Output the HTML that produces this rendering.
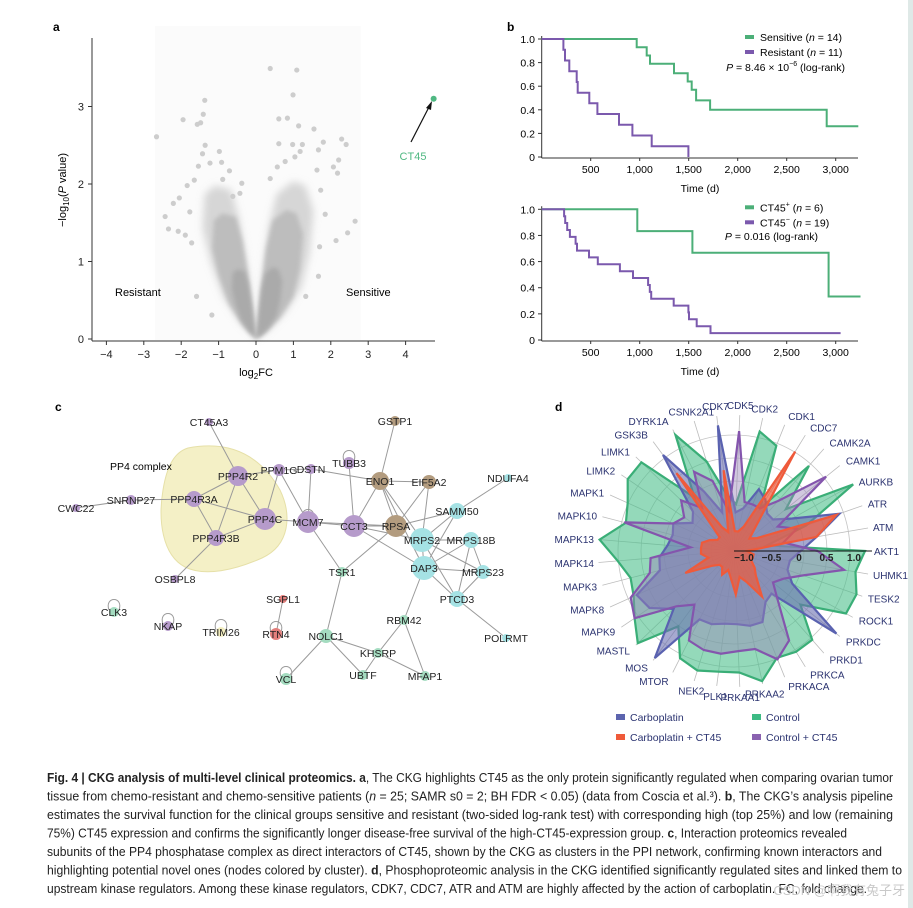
<!DOCTYPE html>
<html><head><meta charset="utf-8">
<style>
html,body{margin:0;padding:0;background:#fff;}
svg{display:block;font-family:"Liberation Sans",sans-serif;}
</style></head>
<body>
<svg id="fig" width="913" height="908" viewBox="0 0 913 908" xmlns="http://www.w3.org/2000/svg">
<defs>
<filter id="blur3" x="-20%" y="-20%" width="140%" height="140%"><feGaussianBlur stdDeviation="4"/></filter>
<filter id="blur1" x="-20%" y="-20%" width="140%" height="140%"><feGaussianBlur stdDeviation="2"/></filter>
</defs>
<rect x="0" y="0" width="913" height="908" fill="#fff"/>
<rect x="908" y="0" width="5" height="908" fill="#dfe9e7"/>
<g id="pa"></g>
<g id="pb"></g>
<g id="pc"></g>
<g id="pd"></g>
<g id="cap" font-family="'Liberation Sans Narrow','Liberation Sans',sans-serif" font-size="12.5" fill="#222">
<text x="47" y="782" textLength="846" lengthAdjust="spacingAndGlyphs"><tspan font-weight="bold">Fig. 4 | CKG analysis of multi-level clinical proteomics. a</tspan>, The CKG highlights CT45 as the only protein significantly regulated when comparing ovarian tumor</text>
<text x="47" y="800.5" textLength="846" lengthAdjust="spacingAndGlyphs">tissue from chemo-resistant and chemo-sensitive patients (<tspan font-style="italic">n</tspan> = 25; SAMR s0 = 2; BH FDR &lt; 0.05) (data from Coscia et al.³). <tspan font-weight="bold">b</tspan>, The CKG’s analysis pipeline</text>
<text x="47" y="819" textLength="846" lengthAdjust="spacingAndGlyphs">estimates the survival function for the clinical groups sensitive and resistant (two-sided log-rank test) with corresponding high (top 25%) and low (remaining</text>
<text x="47" y="837.5" textLength="800" lengthAdjust="spacingAndGlyphs">75%) CT45 expression and confirms the significantly longer disease-free survival of the high-CT45-expression group. <tspan font-weight="bold">c</tspan>, Interaction proteomics revealed</text>
<text x="47" y="856" textLength="835" lengthAdjust="spacingAndGlyphs">subunits of the PP4 phosphatase complex as direct interactors of CT45, shown by the CKG as clusters in the PPI network, confirming known interactors and</text>
<text x="47" y="874.5" textLength="855" lengthAdjust="spacingAndGlyphs">highlighting potential novel ones (nodes colored by cluster). <tspan font-weight="bold">d</tspan>, Phosphoproteomic analysis in the CKG identified significantly regulated sites and linked them to</text>
<text x="47" y="893" textLength="820" lengthAdjust="spacingAndGlyphs">upstream kinase regulators. Among these kinase regulators, CDK7, CDC7, ATR and ATM are highly affected by the action of carboplatin. FC, fold change.</text>
</g>
<text x="905" y="895" text-anchor="end" font-size="13" fill="#c9c9c9" font-family="'Liberation Sans','Noto Sans CJK SC',sans-serif">CSDN @啊我有兔子牙</text>
</svg>
<script>
// ---------- Panel A data ----------
const volcanoFC = [-2.66,-2.43,-2.34,-2.21,-2.05,-1.95,-1.84,-1.89,-2.08,-1.77,-1.65,-1.57,-1.54,-1.48,-1.41,-1.37,-1.36,-1.43,-1.23,-0.98,-0.92,-0.71,-0.89,-0.38,0.38,1.09,0.99,0.61,0.84,1.14,1.55,0.61,0.98,1.24,1.80,2.29,2.41,1.67,1.18,2.07,2.21,2.18,2.65,2.45,2.14,1.85,1.70,1.67,0.38,0.57,0.78,1.04,1.63,1.73,-1.72,-1.59,-1.18,-0.62,-0.43,1.33];
const volcanoP = [2.61,1.58,1.42,1.75,1.82,2.83,1.98,1.34,1.39,1.64,2.05,2.77,2.23,2.79,2.90,3.08,2.50,2.39,2.27,2.42,2.28,2.17,2.06,2.01,3.49,3.47,3.15,2.84,2.85,2.75,2.71,2.52,2.51,2.51,2.54,2.58,2.51,2.44,2.42,2.22,2.31,2.14,1.52,1.37,1.27,1.61,1.19,0.81,2.07,2.22,2.29,2.35,2.18,1.92,1.24,0.55,0.31,1.84,1.88,0.55];
const denseLeftFC = [0,-0.4,-0.8,-1.1,-1.3,-1.25,-1.0,-0.6,-0.4,-0.2,-0.05];
const denseLeftP  = [0,0.2,0.5,0.9,1.3,1.7,1.8,1.75,1.4,0.8,0.2];
const denseRightFC = [0,0.3,0.7,1.1,1.3,1.4,1.2,0.9,0.5,0.3,0.15,0.05];
const denseRightP  = [0,0.1,0.3,0.6,1.0,1.5,1.8,1.85,1.7,1.3,0.7,0.2];
const ct45FC = [4.75], ct45P = [3.1];
const aXTicks = [-4,-3,-2,-1,0,1,2,3,4];
const aYTicks = [0,1,2,3];

// ---------- Panel B data ----------
const sensT = [969,1071,1105,1350,1490,1531,1575,1718,2908];
const sensS = [0.93,0.86,0.79,0.71,0.64,0.57,0.48,0.40,0.26];
const sensEnd = 3231;
const resT = [221,238,282,357,367,486,568,789,925,1122,1497];
const resS = [0.909,0.818,0.727,0.636,0.545,0.455,0.364,0.273,0.182,0.091,0];
const resEnd = 1497;
const posT = [976,1538,2928];
const posS = [0.833,0.667,0.333];
const posEnd = 3253;
const negT = [229,240,260,288,346,360,483,572,798,932,1086,1103,1117,1347,1497,1503,1582,1722];
const negS = [0.947,0.895,0.842,0.789,0.737,0.684,0.632,0.579,0.526,0.474,0.421,0.368,0.316,0.263,0.211,0.158,0.105,0.053];
const negEnd = 3050;
const bXTicks = [500,1000,1500,2000,2500,3000];
const bXLabels = ["500","1,000","1,500","2,000","2,500","3,000"];
const bYTicks = [0,0.2,0.4,0.6,0.8,1.0];
const bYLabels = ["0","0.2","0.4","0.6","0.8","1.0"];

// ---------- Panel D data ----------
const kinases = ["AKT1","ATM","ATR","AURKB","CAMK1","CAMK2A","CDC7","CDK1","CDK2","CDK5","CDK7","CSNK2A1","DYRK1A","GSK3B","LIMK1","LIMK2","MAPK1","MAPK10","MAPK13","MAPK14","MAPK3","MAPK8","MAPK9","MASTL","MOS","MTOR","NEK2","PLK1","PRKAA1","PRKAA2","PRKACA","PRKCA","PRKD1","PRKDC","ROCK1","TESK2","UHMK1"];
const controlVals = [1.20,-0.57,0.21,1.30,0.03,0.88,-0.27,0.88,1.04,-0.33,-0.15,0.52,1.18,0.03,1.15,1.15,0.94,0.85,1.27,0.94,0.76,0.82,1.00,1.24,0.52,1.00,1.09,1.03,1.03,1.24,0.91,0.97,0.97,0.37,1.15,1.18,1.06];
const carboVals = [0.03,0.34,0.85,0.03,-0.27,-0.27,-0.09,0.03,-0.39,-0.48,1.12,-0.45,0.03,0.99,-0.15,-0.27,0.03,-0.03,0.03,0.18,0.21,0.76,0.67,0.34,1.24,0.21,0.21,0.15,0.15,0.21,0.21,-0.09,-0.15,1.21,0.03,-0.15,-0.15];
const ctrlCt45Vals = [0.34,-0.27,0.03,-0.27,0.97,0.03,-0.27,-0.27,-0.27,1.00,-0.45,0.15,0.43,-0.21,0.15,-0.09,0.03,0.88,-0.39,0.34,0.40,0.88,1.00,0.27,0.03,0.64,0.70,0.70,0.64,0.64,0.94,0.73,0.03,-0.27,-0.15,0.15,0.85];
const carboCt45Vals = [-0.95,0.34,0.79,-0.70,-0.82,-0.58,0.94,-0.70,-0.82,-0.82,0.30,-0.82,-0.70,0.58,-0.82,-0.82,-0.70,-0.58,-0.58,-0.58,-0.70,-0.21,-0.70,-0.82,-0.82,-0.70,-0.82,-0.70,-0.39,-0.70,-0.58,-0.21,-0.58,-0.70,-0.82,-0.82,-0.82];
const dRTicks = [-1.0,-0.5,0,0.5,1.0];
const dRLabels = ["−1.0","−0.5","0","0.5","1.0"];

const NS = "http://www.w3.org/2000/svg";
function mk(parent, tag, attrs, text){
  const e = document.createElementNS(NS, tag);
  for (const k in attrs) e.setAttribute(k, attrs[k]);
  if (text !== undefined) e.textContent = text;
  parent.appendChild(e);
  return e;
}

// ================= PANEL A =================
(function(){
  const g = document.getElementById('pa');
  const X = v => 256 + v*37.4;
  const Y = v => 339 - v*77.5;
  let t = mk(g,'text',{x:53,y:31,'font-size':12,'font-weight':'bold'},'a');
  
  
  mk(g,'rect',{x:X(-2.7),y:26,width:X(2.8)-X(-2.7),height:314,fill:'#fbfbfb'});
  const poly = (fx,py,k,fill,op,filt,name)=>{
    let d = fx.map((v,i)=>(i?'L':'M')+X(v*k).toFixed(1)+' '+Y(py[i]*k).toFixed(1)).join(' ')+'Z';
    const p = mk(g,'path',{d:d,fill:fill,opacity:op,filter:filt});
    
    
  };
  poly(denseLeftFC,denseLeftP,1.1,'#d2d2d2',0.9,'url(#blur3)','dense-halo-left');
  poly(denseRightFC,denseRightP,1.1,'#d2d2d2',0.9,'url(#blur3)','dense-halo-right');
  poly(denseLeftFC,denseLeftP,0.9,'#bcbcbc',0.95,'url(#blur1)','dense-cloud-left');
  poly(denseRightFC,denseRightP,0.9,'#bcbcbc',0.95,'url(#blur1)','dense-cloud-right');
  poly(denseLeftFC,denseLeftP,0.5,'#a8a8a8',0.9,'url(#blur1)','dense-core-left');
  poly(denseRightFC,denseRightP,0.5,'#a8a8a8',0.9,'url(#blur1)','dense-core-right');
  volcanoFC.forEach((v,i)=>{
    const c = mk(g,'circle',{cx:X(v),cy:Y(volcanoP[i]),r:2.6,fill:'#cdcdcd'});
    
    
  });
  mk(g,'line',{x1:92,y1:38,x2:92,y2:341,stroke:'#333','stroke-width':1});
  mk(g,'line',{x1:92,y1:341,x2:435,y2:341,stroke:'#333','stroke-width':1});
  aXTicks.forEach(v=>{
    mk(g,'line',{x1:X(v),y1:341,x2:X(v),y2:345,stroke:'#333'});
    const tt = mk(g,'text',{x:X(v),y:358,'font-size':11,'text-anchor':'middle',fill:'#222'}, v<0?'−'+Math.abs(v):String(v));
    
    
  });
  aYTicks.forEach(v=>{
    mk(g,'line',{x1:88,y1:Y(v),x2:92,y2:Y(v),stroke:'#333'});
    const tt = mk(g,'text',{x:84,y:Y(v)+4,'font-size':11,'text-anchor':'end',fill:'#222'}, String(v));
    
    
  });
  t = mk(g,'text',{x:256,y:376,'font-size':11,'text-anchor':'middle'});
  t.innerHTML = 'log<tspan font-size="8" dy="3">2</tspan><tspan dy="-3">FC</tspan>';
  
  
  t = mk(g,'text',{x:0,y:0,'font-size':11,'text-anchor':'middle',transform:'translate(66,190) rotate(-90)'});
  t.innerHTML = '−log<tspan font-size="8" dy="3">10</tspan><tspan dy="-3">(</tspan><tspan font-style="italic">P</tspan> value)';
  
  
  t = mk(g,'text',{x:115,y:296,'font-size':11},'Resistant');
  
  
  t = mk(g,'text',{x:346,y:296,'font-size':11},'Sensitive');
  
  
  const c = mk(g,'circle',{cx:X(ct45FC[0]),cy:Y(ct45P[0]),r:3,fill:'#4fb882'});
  
  
  mk(g,'line',{x1:411,y1:142,x2:429,y2:107,stroke:'#111','stroke-width':1.2});
  mk(g,'path',{d:'M432,101 L426,108 L431,110 Z',fill:'#111'});
  t = mk(g,'text',{x:413,y:160,'font-size':11,'text-anchor':'middle',fill:'#4fb882'},'CT45');
  
  
})();

// ================= PANEL B =================
(function(){
  const g = document.getElementById('pb');
  let t = mk(g,'text',{x:507,y:31,'font-size':12,'font-weight':'bold'},'b');
  
  
  const X = d => 541.7 + d*0.098;
  function plot(y0, y1, series, legend, pText, pX, pY, name){
    const Y = s => y0 + (1-s)*(y1-y0);
    const gg = mk(g,'g',{});
    
    
    mk(gg,'line',{x1:541.7,y1:y0-3,x2:541.7,y2:y1+1,stroke:'#333'});
    mk(gg,'line',{x1:541.7,y1:y1+1,x2:858,y2:y1+1,stroke:'#333'});
    bXTicks.forEach((v,i)=>{
      mk(gg,'line',{x1:X(v),y1:y1+1,x2:X(v),y2:y1+4,stroke:'#333'});
      const tt = mk(gg,'text',{x:X(v),y:y1+16,'font-size':10.5,'text-anchor':'middle'},bXLabels[i]);
      
      
    });
    bYTicks.forEach((v,i)=>{
      mk(gg,'line',{x1:538,y1:Y(v),x2:541.7,y2:Y(v),stroke:'#333'});
      const tt = mk(gg,'text',{x:535,y:Y(v)+4,'font-size':10.5,'text-anchor':'end'},bYLabels[i]);
      
      
    });
    const tt = mk(gg,'text',{x:700,y:y1+35,'font-size':10.5,'text-anchor':'middle'},'Time (d)');
    
    
    series.forEach(s=>{
      let d = 'M'+X(0)+' '+Y(1);
      s.t.forEach((tm,i)=>{ d += ' H'+X(tm).toFixed(1)+' V'+Y(s.s[i]).toFixed(1); });
      d += ' H'+X(s.end).toFixed(1);
      const p = mk(gg,'path',{d:d,fill:'none',stroke:s.color,'stroke-width':2});
      
      
    });
    legend.forEach((l,i)=>{
      const ly = y0 - 2 + i*15;
      const sw = mk(gg,'rect',{x:745,y:ly-2,width:9,height:4,fill:l.color});
      
      
      const lt = mk(gg,'text',{x:760,y:ly+4,'font-size':10.5});
      lt.innerHTML = l.html;
      
      
    });
    const pt = mk(gg,'text',{x:pX,y:pY,'font-size':10.5,'text-anchor':'end'});
    pt.innerHTML = pText;
    
    
  }
  plot(39,157,[
    {t:sensT,s:sensS,end:sensEnd,color:'#4caf78',name:'sensitive-curve'},
    {t:resT,s:resS,end:resEnd,color:'#7b59ad',name:'resistant-curve'}],
    [{color:'#4caf78',html:'Sensitive (<tspan font-style="italic">n</tspan> = 14)'},
     {color:'#7b59ad',html:'Resistant (<tspan font-style="italic">n</tspan> = 11)'}],
    '<tspan font-style="italic">P</tspan> = 8.46 × 10<tspan font-size="7" dy="-5">−6</tspan><tspan dy="5"> (log-rank)</tspan>',845,71,'survival-sensitivity');
  plot(209.3,340,[
    {t:posT,s:posS,end:posEnd,color:'#4caf78',name:'ct45-high-curve'},
    {t:negT,s:negS,end:negEnd,color:'#7b59ad',name:'ct45-low-curve'}],
    [{color:'#4caf78',html:'CT45<tspan font-size="7" dy="-5">+</tspan><tspan dy="5"> (</tspan><tspan font-style="italic">n</tspan> = 6)'},
     {color:'#7b59ad',html:'CT45<tspan font-size="7" dy="-5">−</tspan><tspan dy="5"> (</tspan><tspan font-style="italic">n</tspan> = 19)'}],
    '<tspan font-style="italic">P</tspan> = 0.016 (log-rank)',818,240,'survival-ct45');
})();

// ================= PANEL C =================
const nodeNames = ["CT45A3","PPP4R2","PPP4R3A","PPP4C","PPP4R3B","SNRNP27","CWC22","OSBPL8","PPM1G","DSTN","TUBB3","MCM7","ENO1","EIF5A2","GSTP1","CCT3","RPSA","NDUFA4","SAMM50","MRPS2","MRPS18B","DAP3","MRPS23","PTCD3","POLRMT","TSR1","SGPL1","RTN4","NOLC1","VCL","UBTF","KHSRP","MFAP1","RBM42","CLK3","NKAP","TRIM26"];
const nodeX = [209,238,194,265,216,131,76,175,279,311,349,308,380,429,395,354,396,508,457,422,471,424,483,457,506,342,283,276,326,286,363,378,425,404,114,168,221];
const nodeY = [422,476,499,519,538,500,508,579,470,469,463,522,481,482,421,526,526,478,511,540,540,568,572,599,638,572,599,634,636,679,675,653,676,620,612,626,632];
const nodeSize = [4,10,8,11,8,5,4,4,6,5,6,11,9,7,5,11,11,4,8,12,8,12,7,8,4,5,4,6,7,6,5,5,5,5,5,5,5];
const nodeCluster = ["p","p","p","p","p","p","p","p","p","p","p","p","b","b","b","p","b","c","c","c","c","c","c","c","c","g","r","r","g","g","g","g","g","g","g","p","y"];
const edgeList = [["CT45A3","PPP4R2"],["PPP4R2","PPP4R3A"],["PPP4R2","PPP4C"],["PPP4R2","PPP4R3B"],["PPP4R2","PPM1G"],["PPP4R3A","PPP4C"],["PPP4R3A","PPP4R3B"],["PPP4R3A","SNRNP27"],["SNRNP27","CWC22"],["PPP4R3B","PPP4C"],["PPP4R3B","OSBPL8"],["PPP4C","PPM1G"],["PPP4C","MCM7"],["PPM1G","MCM7"],["PPM1G","DSTN"],["DSTN","MCM7"],["DSTN","ENO1"],["TUBB3","CCT3"],["MCM7","CCT3"],["MCM7","TSR1"],["MCM7","RPSA"],["ENO1","GSTP1"],["ENO1","EIF5A2"],["ENO1","CCT3"],["ENO1","RPSA"],["ENO1","MRPS2"],["ENO1","DAP3"],["EIF5A2","RPSA"],["EIF5A2","MRPS2"],["CCT3","RPSA"],["CCT3","DAP3"],["CCT3","MRPS2"],["RPSA","SAMM50"],["RPSA","TSR1"],["SAMM50","NDUFA4"],["SAMM50","MRPS2"],["SAMM50","DAP3"],["MRPS2","MRPS18B"],["MRPS2","DAP3"],["MRPS2","MRPS23"],["MRPS2","PTCD3"],["MRPS18B","DAP3"],["MRPS18B","MRPS23"],["MRPS18B","PTCD3"],["DAP3","MRPS23"],["DAP3","PTCD3"],["DAP3","RBM42"],["MRPS23","PTCD3"],["PTCD3","POLRMT"],["TSR1","NOLC1"],["NOLC1","VCL"],["NOLC1","UBTF"],["NOLC1","KHSRP"],["KHSRP","MFAP1"],["RBM42","KHSRP"],["RBM42","MFAP1"],["KHSRP","UBTF"],["SGPL1","RTN4"]];
const selfLoops = ["TUBB3","MCM7","CLK3","NKAP","TRIM26","RTN4","VCL"];
(function(){
  const g = document.getElementById('pc');
  const col = {p:'#b69bcb',b:'#b39c7f',c:'#a5e2e4',g:'#a4dcc0',r:'#e37f7c',y:'#f3eec0'};
  const idx = n => nodeNames.indexOf(n);
  let t = mk(g,'text',{x:55,y:411,'font-size':12,'font-weight':'bold'},'c');
  
  
  const hull = mk(g,'path',{d:'M188,448 C230,440 260,455 280,490 C292,515 290,545 262,558 C235,570 205,577 185,567 C162,555 158,520 163,490 C167,465 175,452 188,448 Z',fill:'#f4f0c6',stroke:'#e6e0a8','stroke-width':1});
  
  
  t = mk(g,'text',{x:110,y:470,'font-size':10.5},'PP4 complex');
  
  
  edgeList.forEach(e=>{
    const a=idx(e[0]), b=idx(e[1]);
    const l = mk(g,'line',{x1:nodeX[a],y1:nodeY[a],x2:nodeX[b],y2:nodeY[b],stroke:'#9a9a9a','stroke-width':1});
    
    
  });
  selfLoops.forEach(n=>{
    const i=idx(n);
    const p = mk(g,'path',{d:`M${nodeX[i]-5},${nodeY[i]-2} C${nodeX[i]-10},${nodeY[i]-16} ${nodeX[i]+10},${nodeY[i]-16} ${nodeX[i]+5},${nodeY[i]-2}`,fill:'none',stroke:'#9a9a9a','stroke-width':1});
    
    
  });
  nodeNames.forEach((n,i)=>{
    const c = mk(g,'circle',{cx:nodeX[i],cy:nodeY[i],r:nodeSize[i],fill:col[nodeCluster[i]]});
    
    
  });
  nodeNames.forEach((n,i)=>{
    const tt = mk(g,'text',{x:nodeX[i],y:nodeY[i]+4,'font-size':10.5,'text-anchor':'middle',fill:'#222'},n);
    
    
  });
})();

// ================= PANEL D =================
(function(){
  const g = document.getElementById('pd');
  const cx=734, cy=551;
  const R = v => 10 + (v+1)*55;
  const N = kinases.length;
  const ang = i => -i*2*Math.PI/N;
  let t = mk(g,'text',{x:555,y:411,'font-size':12,'font-weight':'bold'},'d');
  
  
  [23,46,70,93,116].forEach(r=>mk(g,'circle',{cx:cx,cy:cy,r:r,fill:'none',stroke:'#c4c4c4','stroke-width':0.8}));
  kinases.forEach((k,i)=>{
    const a=ang(i);
    mk(g,'line',{x1:cx,y1:cy,x2:cx+136*Math.cos(a),y2:cy+136*Math.sin(a),stroke:'#bcbcbc','stroke-width':0.8});
  });
  const series = [
    {v:controlVals,fill:'#4cc08c',stroke:'#3aae77',op:0.6,name:'control-series'},
    {v:carboVals,fill:'#6a70b0',stroke:'#5a62b0',op:0.6,name:'carboplatin-series'},
    {v:ctrlCt45Vals,fill:'#9a86b8',stroke:'#8455ad',op:0.45,name:'control-ct45-series'},
    {v:carboCt45Vals,fill:'#ef5a3a',stroke:'#ef5a3a',op:0.7,name:'carboplatin-ct45-series'}
  ];
  series.forEach(s=>{
    const pts = s.v.map((v,i)=>{const r=R(v),a=ang(i);return (cx+r*Math.cos(a)).toFixed(1)+','+(cy+r*Math.sin(a)).toFixed(1);}).join(' ');
    const p = mk(g,'polygon',{points:pts,fill:s.fill,'fill-opacity':s.op,stroke:s.stroke,'stroke-width':2.2,'stroke-linejoin':'miter'});
    
    
  });
  mk(g,'line',{x1:cx,y1:cy,x2:872,y2:cy,stroke:'#111','stroke-width':1});
  dRTicks.forEach((v,i)=>{
    const tt = mk(g,'text',{x:cx+R(v),y:cy+10,'font-size':10,'text-anchor':'middle','font-weight':'bold',fill:'#222'},dRLabels[i]);
    
    
  });
  kinases.forEach((k,i)=>{
    const a=ang(i);
    const c = Math.cos(a), s = Math.sin(a);
    const lr = 140 + 6*Math.abs(s);
    const x = cx+lr*c, y = cy+lr*s;
    const anchor = c>0.3?'start':(c<-0.3?'end':'middle');
    const tt = mk(g,'text',{x:x,y:y+4,'font-size':10,'text-anchor':anchor,fill:'#2b3370'},k);
    
    
  });
  const leg = [
    {x:616,y:718,c:'#5c64ae',t:'Carboplatin'},
    {x:752,y:718,c:'#3dbb84',t:'Control'},
    {x:616,y:738,c:'#ef5a3a',t:'Carboplatin + CT45'},
    {x:752,y:738,c:'#8a62b0',t:'Control + CT45'}];
  leg.forEach(l=>{
    const r = mk(g,'rect',{x:l.x,y:l.y-4,width:9,height:6,fill:l.c});
    
    
    const tt = mk(g,'text',{x:l.x+14,y:l.y+3,'font-size':10.5,fill:'#2b3370'},l.t);
    
    
  });
})();
</script>
</body></html>
